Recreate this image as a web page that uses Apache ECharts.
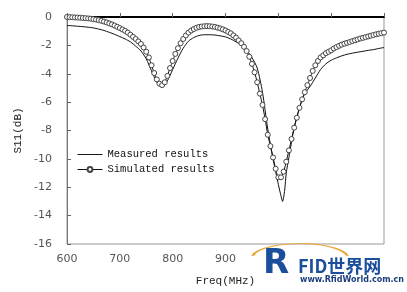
<!DOCTYPE html>
<html><head><meta charset="utf-8">
<script src="https://cdn.jsdelivr.net/npm/echarts@6/dist/echarts.min.js"></script>
<style>html,body{margin:0;padding:0;background:#fff}#c{width:407px;height:292px}</style>
</head><body><div id="c"></div>
<script>
var seriesNames = ['Measured results', 'Simulated results'];
var xTicks = [600, 700, 800, 900, 1000, 1100, 1200];
var yTicks = [0, -2, -4, -6, -8, -10, -12, -14, -16];

var measuredFreq = [600,610,620,630,640,650,660,670,680,690,700,710,720,730,740,750,760,770,780,790,800,810,820,830,840,850,860,870,880,890,900,910,920,930,940,950,960,970,980,990,995,1000,1005,1008,1012,1015,1020,1030,1040,1050,1060,1070,1080,1090,1100,1110,1120,1130,1140,1150,1160,1170,1180,1190,1200];
var measuredS11 = [-0.6,-0.62,-0.65,-0.68,-0.72,-0.77,-0.85,-0.95,-1.08,-1.22,-1.38,-1.55,-1.75,-2.05,-2.4,-2.95,-3.8,-4.6,-4.95,-4.5,-3.7,-2.9,-2.2,-1.7,-1.45,-1.3,-1.25,-1.25,-1.27,-1.33,-1.4,-1.55,-1.75,-2.0,-2.35,-2.85,-3.6,-5.3,-7.9,-10.0,-10.9,-11.8,-12.6,-13.0,-12.2,-11.0,-9.9,-7.8,-6.4,-5.4,-4.9,-4.3,-3.7,-3.3,-3.05,-2.88,-2.74,-2.63,-2.55,-2.48,-2.42,-2.35,-2.3,-2.22,-2.15];

var simFreq = [600,605,610,615,620,625,630,635,640,645,650,655,660,665,670,675,680,685,690,695,700,705,710,715,720,725,730,735,740,745,750,755,760,765,770,775,780,785,790,795,800,805,810,815,820,825,830,835,840,845,850,855,860,865,870,875,880,885,890,895,900,905,910,915,920,925,930,935,940,945,950,955,960,965,970,975,980,985,990,995,1000,1005,1010,1015,1020,1025,1030,1035,1040,1045,1050,1055,1060,1065,1070,1075,1080,1085,1090,1095,1100,1105,1110,1115,1120,1125,1130,1135,1140,1145,1150,1155,1160,1165,1170,1175,1180,1185,1190,1195,1200];
var simS11 = [0,-0.01,-0.02,-0.03,-0.04,-0.05,-0.07,-0.08,-0.1,-0.12,-0.15,-0.18,-0.22,-0.27,-0.32,-0.38,-0.45,-0.52,-0.6,-0.69,-0.78,-0.88,-0.98,-1.1,-1.25,-1.4,-1.55,-1.72,-1.9,-2.15,-2.45,-2.85,-3.4,-3.95,-4.4,-4.7,-4.8,-4.6,-4.15,-3.6,-3.1,-2.6,-2.2,-1.85,-1.55,-1.3,-1.1,-0.95,-0.85,-0.76,-0.7,-0.67,-0.65,-0.64,-0.65,-0.67,-0.7,-0.75,-0.8,-0.87,-0.95,-1.05,-1.15,-1.3,-1.45,-1.65,-1.85,-2.1,-2.4,-2.8,-3.3,-3.9,-4.6,-5.4,-6.2,-7.2,-8.3,-9.1,-9.9,-10.7,-11.3,-11.3,-10.9,-10.2,-9.4,-8.6,-7.8,-7.1,-6.4,-5.8,-5.3,-4.8,-4.3,-3.8,-3.4,-3.1,-2.85,-2.7,-2.55,-2.45,-2.35,-2.22,-2.12,-2.03,-1.95,-1.88,-1.82,-1.76,-1.7,-1.64,-1.58,-1.52,-1.47,-1.42,-1.37,-1.32,-1.27,-1.22,-1.18,-1.14,-1.1];

function pairs(xs, ys){ return xs.map(function(x,i){ return [x, ys[i]]; }); }

var chart = echarts.init(document.getElementById('c'));
var tickFont = {color:'#555', fontSize:11, fontFamily:'DejaVu Sans'};
chart.setOption({
  backgroundColor:'#fff',
  animation:false,
  grid:{left:67, right:23, top:17, bottom:44, show:true, borderColor:'#999', borderWidth:1},
  legend:{
    left:77, top:149, padding:0, orient:'vertical', itemGap:4, itemWidth:25, itemHeight:6,
    lineStyle:{width:1},
    textStyle:{color:'#111', fontSize:10.5, fontFamily:'Liberation Mono'},
    data:[{name:seriesNames[0], icon:'path://M0,0 h26 v1 h-26 z'}, {name:seriesNames[1]}]
  },
  xAxis:{
    type:'value', min:xTicks[0], max:xTicks[xTicks.length-1], interval:100,
    name:'Freq(MHz)', nameLocation:'middle', nameGap:32,
    nameTextStyle:{color:'#222', fontSize:11, fontFamily:'Liberation Mono'},
    axisLine:{show:true, lineStyle:{color:'#000', width:2}},
    axisTick:{show:true, inside:true, length:4, lineStyle:{color:'#666'}},
    axisLabel:Object.assign({margin:10}, tickFont),
    splitLine:{show:false}
  },
  yAxis:{
    type:'value', min:yTicks[yTicks.length-1], max:yTicks[0], interval:2,
    name:'S11(dB)', nameLocation:'middle', nameGap:36, nameRotate:90,
    nameTextStyle:{color:'#222', fontSize:11, fontFamily:'Liberation Mono'},
    axisLine:{show:true, lineStyle:{color:'#777', width:1}},
    axisTick:{show:true, inside:true, length:4, lineStyle:{color:'#666'}},
    axisLabel:Object.assign({margin:15}, tickFont),
    splitLine:{show:false}
  },
  series:[
    {name:seriesNames[0], type:'line', data:pairs(measuredFreq, measuredS11), symbol:'none', smooth:0.25,
     lineStyle:{color:'#111', width:1}, itemStyle:{color:'#111'}},
    {name:seriesNames[1], type:'line', data:pairs(simFreq, simS11), symbol:'circle', symbolSize:5, smooth:0.25,
     lineStyle:{color:'#111', width:1}, itemStyle:{color:'#fff', borderColor:'#444', borderWidth:1}}
  ],
  graphic:[
    {type:'rect', shape:{x:255, y:252, width:150, height:38}, style:{fill:'#fff'}, z:100},
    {type:'arc', shape:{cx:300, cy:258, r:48, startAngle:Math.PI*1.05, endAngle:Math.PI*1.95}, style:{stroke:'#e8a530', lineWidth:3, fill:null}, scaleY:0.3, originX:300, originY:258, z:101},
    {type:'text', left:263, top:247, style:{text:'R', fill:'#1b4f9c', font:'bold 34px "DejaVu Sans"'}, z:102},
    {type:'text', left:298, top:257, style:{text:'FID世界网', fill:'#1b4f9c', font:'bold 18px "Noto Sans CJK SC"'}, z:102},
    {type:'text', left:300, top:276, style:{text:'www.RfidWorld.com.cn', fill:'#1b3f7c', font:'bold 8px "DejaVu Sans"'}, z:102}
  ]
});
</script></body></html>
